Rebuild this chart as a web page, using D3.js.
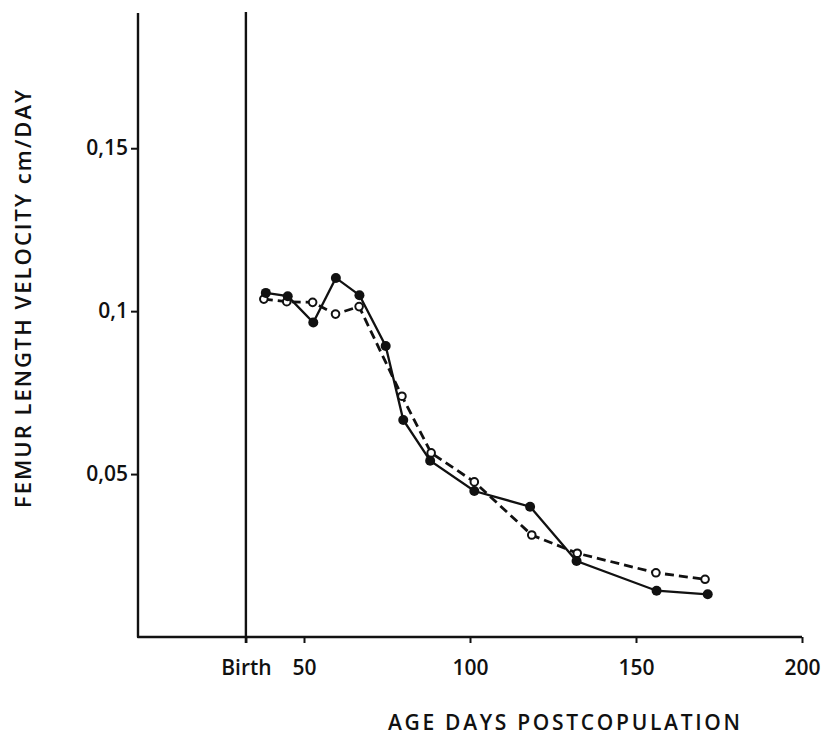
<!DOCTYPE html>
<html>
<head>
<meta charset="utf-8">
<script src="https://cdn.jsdelivr.net/npm/d3@7"></script>
<style>
  body { margin: 0; background: #fff; }
  svg { display: block; font-family: "Open Sans", sans-serif; }
</style>
</head>
<body>
<svg id="chart"></svg>
<script>
// age (days postcopulation) and femur velocity, filled-dot series
const ageFilled = [38.5, 45.1, 52.8, 59.6, 66.7, 74.6, 79.9, 88.0, 101.3, 118.1, 132.1, 156.2, 171.6];
const velFilled = [0.1056, 0.1046, 0.0965, 0.1102, 0.1049, 0.0893, 0.0666, 0.0541, 0.0448, 0.0400, 0.0233, 0.0142, 0.0131];
// open-circle series (dashed)
const ageOpen = [37.9, 44.8, 52.6, 59.5, 66.6, 79.5, 88.3, 101.3, 118.6, 132.3, 156.0, 170.8];
const velOpen = [0.1037, 0.1029, 0.1027, 0.0991, 0.1014, 0.0739, 0.0565, 0.0476, 0.0313, 0.0257, 0.0197, 0.0177];

const birthAge = 32.5;
const xTicks = [birthAge, 50, 100, 150, 200];
const yTicks = [0.05, 0.1, 0.15];
const yTop = 0.1915;

const width = 825, height = 737;
const margin = { top: 13, right: 23, bottom: 100, left: 138 };

const svg = d3.select("#chart")
    .attr("width", width)
    .attr("height", height);

const x = d3.scaleLinear()
    .domain([0, 200])
    .range([margin.left, width - margin.right]);

const y = d3.scaleLinear()
    .domain([0, yTop])
    .range([height - margin.bottom, margin.top]);

const ink = "#111";

// x axis
const xAxis = svg.append("g")
    .attr("transform", `translate(0,${y(0)})`)
    .call(d3.axisBottom(x)
        .tickValues(xTicks)
        .tickSize(6)
        .tickPadding(17)
        .tickSizeOuter(0)
        .tickFormat(d => d === birthAge ? "Birth" : d));
xAxis.select(".domain").remove();
xAxis.selectAll("line").attr("stroke", ink).attr("stroke-width", 2);
xAxis.selectAll("text")
    .attr("font-size", 21)
    .attr("font-weight", 600)
    .attr("fill", ink)
    .attr("font-family", "Open Sans");

// y axis
const yAxis = svg.append("g")
    .attr("transform", `translate(${x(0)},0)`)
    .call(d3.axisLeft(y)
        .tickValues(yTicks)
        .tickSize(7)
        .tickPadding(3)
        .tickSizeOuter(0)
        .tickFormat(d => String(d).replace(".", ",")));
yAxis.select(".domain").remove();
yAxis.selectAll("line").attr("stroke", ink).attr("stroke-width", 2);
yAxis.selectAll("text")
    .attr("font-size", 21)
    .attr("font-weight", 600)
    .attr("fill", ink)
    .attr("font-family", "Open Sans");

// axis lines drawn as an open frame
svg.append("path")
    .attr("d", `M${x(0)},${y(yTop)}V${y(0)}H${x(200)}`)
    .attr("fill", "none")
    .attr("stroke", ink)
    .attr("stroke-width", 2.4)
    .attr("stroke-linejoin", "round");

// birth line
svg.append("line")
    .attr("x1", x(birthAge)).attr("x2", x(birthAge))
    .attr("y1", y(yTop) - 1).attr("y2", y(0) + 6)
    .attr("stroke", ink)
    .attr("stroke-width", 2.4);

const filled = ageFilled.map((a, i) => ({ age: a, v: velFilled[i] }));
const open = ageOpen.map((a, i) => ({ age: a, v: velOpen[i] }));

const line = d3.line()
    .x(d => x(d.age))
    .y(d => y(d.v));

svg.append("path")
    .datum(open)
    .attr("d", line)
    .attr("fill", "none")
    .attr("stroke", ink)
    .attr("stroke-width", 2.8)
    .attr("stroke-dasharray", "9,5");

svg.append("path")
    .datum(filled)
    .attr("d", line)
    .attr("fill", "none")
    .attr("stroke", ink)
    .attr("stroke-width", 2.3);

svg.selectAll(".dot-open")
    .data(open)
    .enter()
    .append("circle")
    .attr("class", "dot-open")
    .attr("cx", d => x(d.age))
    .attr("cy", d => y(d.v))
    .attr("r", 3.8)
    .attr("fill", "#fff")
    .attr("stroke", ink)
    .attr("stroke-width", 2);

svg.selectAll(".dot-filled")
    .data(filled)
    .enter()
    .append("circle")
    .attr("class", "dot-filled")
    .attr("cx", d => x(d.age))
    .attr("cy", d => y(d.v))
    .attr("r", 5)
    .attr("fill", ink);

// axis titles
svg.append("text")
    .attr("x", 388)
    .attr("y", 730)
    .attr("font-size", 21)
    .attr("font-weight", 600)
    .attr("textLength", 352)
    .attr("lengthAdjust", "spacing")
    .attr("fill", ink)
    .text("AGE DAYS POSTCOPULATION");

svg.append("text")
    .attr("transform", "translate(31,508) rotate(-90)")
    .attr("font-size", 22)
    .attr("font-weight", 600)
    .attr("textLength", 418)
    .attr("lengthAdjust", "spacing")
    .attr("fill", ink)
    .text("FEMUR LENGTH VELOCITY cm/DAY");
</script>
</body>
</html>
